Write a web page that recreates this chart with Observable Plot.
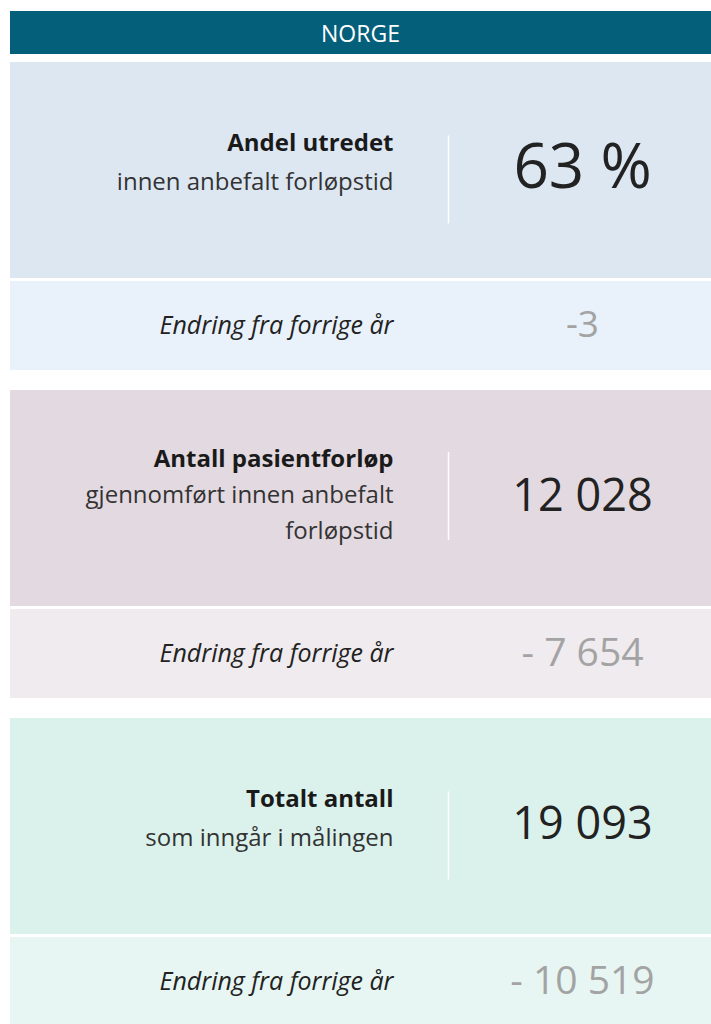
<!DOCTYPE html>
<html><head><meta charset="utf-8">
<script src="https://cdn.jsdelivr.net/npm/d3@7"></script>
<script src="https://cdn.jsdelivr.net/npm/@observablehq/plot@0.6"></script>
<style>
body{margin:0;background:#fff;font-family:"Open Sans",sans-serif;}
#hdr{margin:11px 0 0 10px;width:701px;height:43px;background:#04607a;color:#fff;font-size:23px;display:flex;align-items:center;justify-content:center;}
#chart{margin-top:8px;line-height:0;}
</style></head><body>
<div id="hdr"></div>
<div id="chart"></div>
<script>
// ---- data ----
const region = "NORGE";
const metrics = ["Andel utredet", "Antall pasientforløp", "Totalt antall"];
const subtitles = ["innen anbefalt forløpstid", "gjennomført innen anbefalt\nforløpstid", "som inngår i målingen"];
const values = [63, 12028, 19093];
const units = ["%", "", ""];
const changes = [-3, -7654, -10519];
const changeLabel = "Endring fra forrige år";

// ---- styles / layout ----
const mainFill = ["#dde7f2", "#e3d9e0", "#dbf2ec"];
const changeFill = ["#e9f1fa", "#efebee", "#e7f6f2"];
const font = "Open Sans";
const H = 308;               // facet band height in px
const f = px => px / H;      // px -> y-domain fraction

document.getElementById("hdr").textContent = region;

const group = n => d3.format(",")(n).replace(/,/g, " ");
const fmtValue = (v, u) => u ? `${group(v)} ${u}` : group(v);
const fmtChange = (v, u) => {
  const s = group(Math.abs(v));
  if (v >= 0) return s;
  return u ? `-${s}` : `- ${s}`;
};

const cards = metrics.map((m, i) => ({
  metric: m, i,
  value: fmtValue(values[i], units[i]),
  change: fmtChange(changes[i], units[i]),
  lines: [m, ...subtitles[i].split("\n")]
}));

const lineRows = cards.flatMap(c => {
  const n = c.lines.length, step = n > 2 ? 36 : 39, mid = n > 2 ? 105 : 100;
  return c.lines.map((t, j) => ({
    metric: c.metric, text: t, bold: j === 0,
    y: f(mid + (j - (n - 1) / 2) * step)
  }));
});
const dividers = cards.map(c => {
  const first = lineRows.find(r => r.metric === c.metric).y;
  const y0 = first - f(7);
  return {metric: c.metric, y1: y0, y2: y0 + f(88)};
});

const mainY2 = f(216), chY1 = f(219);
const xLabel = (393 - 10) / 701, xDiv = (448 - 10) / 701, xVal = (582 - 10) / 701;

const chart = Plot.plot({
  width: 711,
  height: 3 * H + 2 * 20,
  marginLeft: 10, marginRight: 0, marginTop: 0, marginBottom: 0,
  x: {domain: [0, 1], axis: null},
  y: {domain: [0, 1], axis: null, reverse: true},
  fy: {domain: metrics, axis: null, paddingInner: 20 / 328, paddingOuter: 0},
  color: {type: "identity"},
  marks: [
    Plot.rect(cards, {fy: "metric", x1: 0, x2: 1, y1: 0, y2: mainY2, fill: d => mainFill[d.i]}),
    Plot.rect(cards, {fy: "metric", x1: 0, x2: 1, y1: chY1, y2: 1, fill: d => changeFill[d.i]}),
    Plot.ruleX(dividers, {fy: "metric", x: xDiv, y1: "y1", y2: "y2", stroke: "#ffffff", strokeWidth: 1.5}),
    Plot.text(lineRows.filter(d => d.bold), {fy: "metric", x: xLabel, y: "y", text: "text", textAnchor: "end",
      fontFamily: font, fontSize: 24, fontWeight: "bold", fill: "#1a1a1a"}),
    Plot.text(lineRows.filter(d => !d.bold), {fy: "metric", x: xLabel, y: "y", text: "text", textAnchor: "end",
      fontFamily: font, fontSize: 24, fill: "#333333"}),
    Plot.text(cards, {fy: "metric", x: xVal, y: f(106), text: "value", textAnchor: "middle",
      fontFamily: font, fontSize: d => d.i === 0 ? 62 : 45, fill: "#222222"}),
    Plot.text(cards, {fy: "metric", x: xLabel, y: f(263), text: () => changeLabel, textAnchor: "end",
      fontFamily: font, fontSize: 25, fontStyle: "italic", fill: "#222222"}),
    Plot.text(cards, {fy: "metric", x: xVal, y: f(263), text: "change", textAnchor: "middle",
      fontFamily: font, fontSize: d => d.i === 0 ? 37 : 39, fill: "#a3a3a3"})
  ]
});
document.getElementById("chart").appendChild(chart);
</script>
</body></html>
